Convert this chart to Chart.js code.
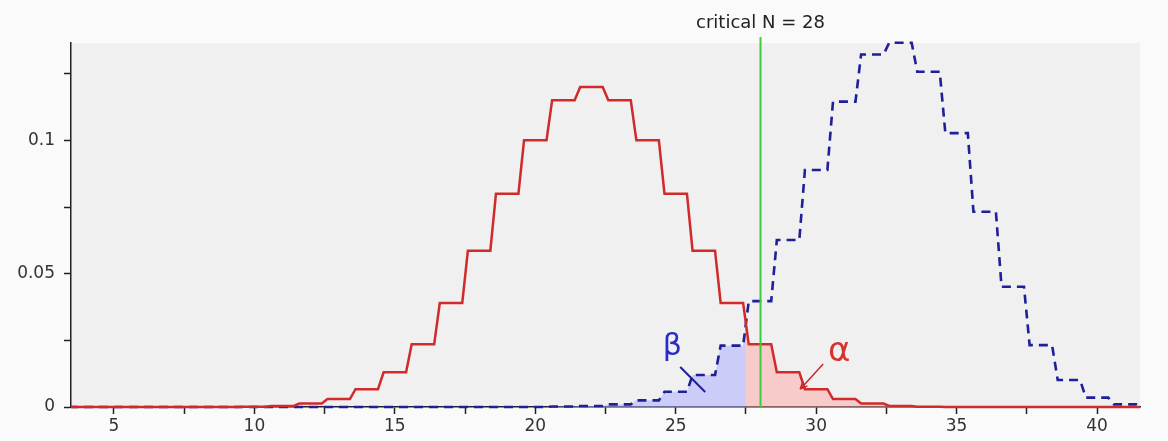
<!DOCTYPE html>
<html>
<head>
<meta charset="utf-8">
<script src="https://cdn.jsdelivr.net/npm/chart.js@4"></script>
<style>
  html, body { margin: 0; padding: 0; background: #fafafa; }
  #wrap { width: 1168px; height: 441px; }
</style>
</head>
<body>
<div id="wrap"><canvas id="chartCanvas"></canvas></div>
<script>
// N = 3 .. 42
const nValues = [3, 4, 5, 6, 7, 8, 9, 10, 11, 12, 13, 14, 15, 16, 17, 18, 19, 20, 21, 22,
                 23, 24, 25, 26, 27, 28, 29, 30, 31, 32, 33, 34, 35, 36, 37, 38, 39, 40, 41, 42];
// red, solid (null hypothesis)
const nullDist = [0, 0, 0, 0, 0, 0, 0, 0.0001, 0.0004, 0.0013, 0.003, 0.0067, 0.013, 0.0235, 0.039, 0.0586, 0.080, 0.100, 0.115, 0.120,
                  0.115, 0.100, 0.080, 0.0586, 0.039, 0.0235, 0.013, 0.0067, 0.003, 0.0013, 0.0004, 0.0001, 0, 0, 0, 0, 0, 0, 0, 0];
// blue, dashed (alternative)
const altDist = [0, 0, 0, 0, 0, 0, 0, 0, 0, 0, 0, 0, 0, 0, 0, 0, 0, 0, 0.0002, 0.0004,
                 0.001, 0.0025, 0.0057, 0.012, 0.023, 0.0397, 0.0626, 0.0889, 0.1145, 0.1322, 0.1366, 0.1257, 0.1027, 0.0732, 0.0451, 0.0232, 0.0101, 0.0035, 0.001, 0.0002];
const criticalN = 28;
const xTickLabels = [5, 10, 15, 20, 25, 30, 35, 40];
const yTickLabels = [0, 0.05, 0.1];

// annotation anchors in data units
const betaText = { x: 24.88, y: 0.0225 };
const betaPointer = [[25.16, 0.015], [26.05, 0.0056]];
const alphaText = { x: 30.82, y: 0.0205 };
const alphaPointer = [[30.25, 0.0161], [29.43, 0.0067]];

function stepPoints(from, to, ys) {
  const pts = [];
  nValues.forEach((n, i) => {
    if (n < from || n > to) return;
    pts.push({ x: n - 0.4, y: ys[i] }, { x: n + 0.4, y: ys[i] });
  });
  return pts;
}

const cut = criticalN - 0.5;
const iCrit = nValues.indexOf(criticalN);
const betaFill = stepPoints(-Infinity, criticalN - 1, altDist)
  .concat([{ x: cut, y: (altDist[iCrit - 1] + altDist[iCrit]) / 2 }]);
const alphaFill = [{ x: cut, y: (nullDist[iCrit - 1] + nullDist[iCrit]) / 2 }]
  .concat(stepPoints(criticalN, Infinity, nullDist));

const plotBackground = {
  id: 'plotBackground',
  beforeDraw(chart) {
    const { ctx, chartArea: a } = chart;
    ctx.save();
    ctx.fillStyle = '#f0f0f0';
    ctx.fillRect(a.left, a.top, a.right - a.left, a.bottom - a.top);
    ctx.restore();
  }
};

const annotations = {
  id: 'annotations',
  afterDatasetsDraw(chart) {
    const { ctx, chartArea: a, scales: { x, y } } = chart;
    ctx.save();
    // critical line
    const cx = Math.round(x.getPixelForValue(criticalN)) + 0.5;
    ctx.strokeStyle = '#3ccc3c';
    ctx.lineWidth = 2;
    ctx.beginPath();
    ctx.moveTo(cx, a.top - 6);
    ctx.lineTo(cx, a.bottom);
    ctx.stroke();
    ctx.fillStyle = '#222';
    ctx.font = '18px "DejaVu Sans"';
    ctx.textAlign = 'center';
    ctx.textBaseline = 'alphabetic';
    ctx.fillText('critical N = ' + criticalN, cx, a.top - 15);

    // beta
    ctx.fillStyle = '#2a2ac8';
    ctx.font = '30px "DejaVu Sans"';
    ctx.textBaseline = 'middle';
    ctx.fillText('\u03B2', x.getPixelForValue(betaText.x), y.getPixelForValue(betaText.y));
    ctx.strokeStyle = '#1f1f99';
    ctx.lineWidth = 2;
    ctx.beginPath();
    ctx.moveTo(x.getPixelForValue(betaPointer[0][0]), y.getPixelForValue(betaPointer[0][1]));
    ctx.lineTo(x.getPixelForValue(betaPointer[1][0]), y.getPixelForValue(betaPointer[1][1]));
    ctx.stroke();

    // alpha
    ctx.fillStyle = '#d8322e';
    ctx.font = '34px "DejaVu Sans"';
    ctx.fillText('\u03B1', x.getPixelForValue(alphaText.x), y.getPixelForValue(alphaText.y));
    const x0 = x.getPixelForValue(alphaPointer[0][0]), y0 = y.getPixelForValue(alphaPointer[0][1]);
    const x1 = x.getPixelForValue(alphaPointer[1][0]), y1 = y.getPixelForValue(alphaPointer[1][1]);
    ctx.strokeStyle = '#c8282c';
    ctx.lineWidth = 1.5;
    ctx.beginPath();
    ctx.moveTo(x0, y0);
    ctx.lineTo(x1, y1);
    const ang = Math.atan2(y1 - y0, x1 - x0);
    ctx.moveTo(x1, y1);
    ctx.lineTo(x1 - 8 * Math.cos(ang - 0.4), y1 - 8 * Math.sin(ang - 0.4));
    ctx.moveTo(x1, y1);
    ctx.lineTo(x1 - 8 * Math.cos(ang + 0.4), y1 - 8 * Math.sin(ang + 0.4));
    ctx.stroke();
    ctx.restore();
  }
};

function isLabel(list, v) {
  return list.some(t => Math.abs(t - v) < 1e-7);
}

Chart.defaults.font.family = '"DejaVu Sans", sans-serif';
Chart.defaults.font.size = 17;
Chart.defaults.color = '#333';

const lineClip = { left: 0, right: 0, top: 6, bottom: 4 };

const ctx = document.getElementById('chartCanvas').getContext('2d');
new Chart(ctx, {
  type: 'line',
  data: {
    datasets: [
      {
        label: 'null',
        data: stepPoints(-Infinity, Infinity, nullDist),
        borderColor: '#d02a2a',
        borderWidth: 2.5,
        pointRadius: 0,
        fill: false,
        clip: lineClip
      },
      {
        label: 'alternative',
        data: stepPoints(-Infinity, Infinity, altDist),
        borderColor: '#1f1f99',
        borderWidth: 2.6,
        borderDash: [9, 6],
        pointRadius: 0,
        fill: false,
        clip: lineClip
      },
      {
        label: 'beta',
        data: betaFill,
        borderWidth: 0,
        pointRadius: 0,
        backgroundColor: 'rgba(175,175,255,0.55)',
        fill: 'origin'
      },
      {
        label: 'alpha',
        data: alphaFill,
        borderWidth: 0,
        pointRadius: 0,
        backgroundColor: 'rgba(255,165,165,0.5)',
        fill: 'origin'
      }
    ]
  },
  options: {
    responsive: true,
    maintainAspectRatio: false,
    animation: false,
    layout: { padding: { top: 43, right: 28, left: 0, bottom: 0 } },
    plugins: { legend: { display: false }, tooltip: { enabled: false } },
    elements: { line: { tension: 0 } },
    scales: {
      x: {
        type: 'linear',
        min: 3.47,
        max: 41.53,
        afterFit: s => { s.height = 34; },
        border: { display: true, color: '#222', width: 1.5 },
        grid: { drawOnChartArea: false, drawTicks: true, tickLength: 7, tickColor: '#222', tickWidth: 1.5 },
        ticks: {
          stepSize: 2.5,
          includeBounds: false,
          autoSkip: false,
          maxRotation: 0,
          padding: 2,
          callback: v => isLabel(xTickLabels, v) ? String(v) : ''
        }
      },
      y: {
        min: 0,
        max: 0.1365,
        afterFit: s => { s.width = 71; },
        border: { display: true, color: '#222', width: 1.5 },
        grid: { drawOnChartArea: false, drawTicks: true, tickLength: 7, tickColor: '#222', tickWidth: 1.5 },
        ticks: {
          stepSize: 0.025,
          includeBounds: false,
          autoSkip: false,
          padding: 9,
          callback: v => isLabel(yTickLabels, v) ? String(+v.toFixed(3)) : ''
        }
      }
    }
  },
  plugins: [plotBackground, annotations]
});
</script>
</body>
</html>
